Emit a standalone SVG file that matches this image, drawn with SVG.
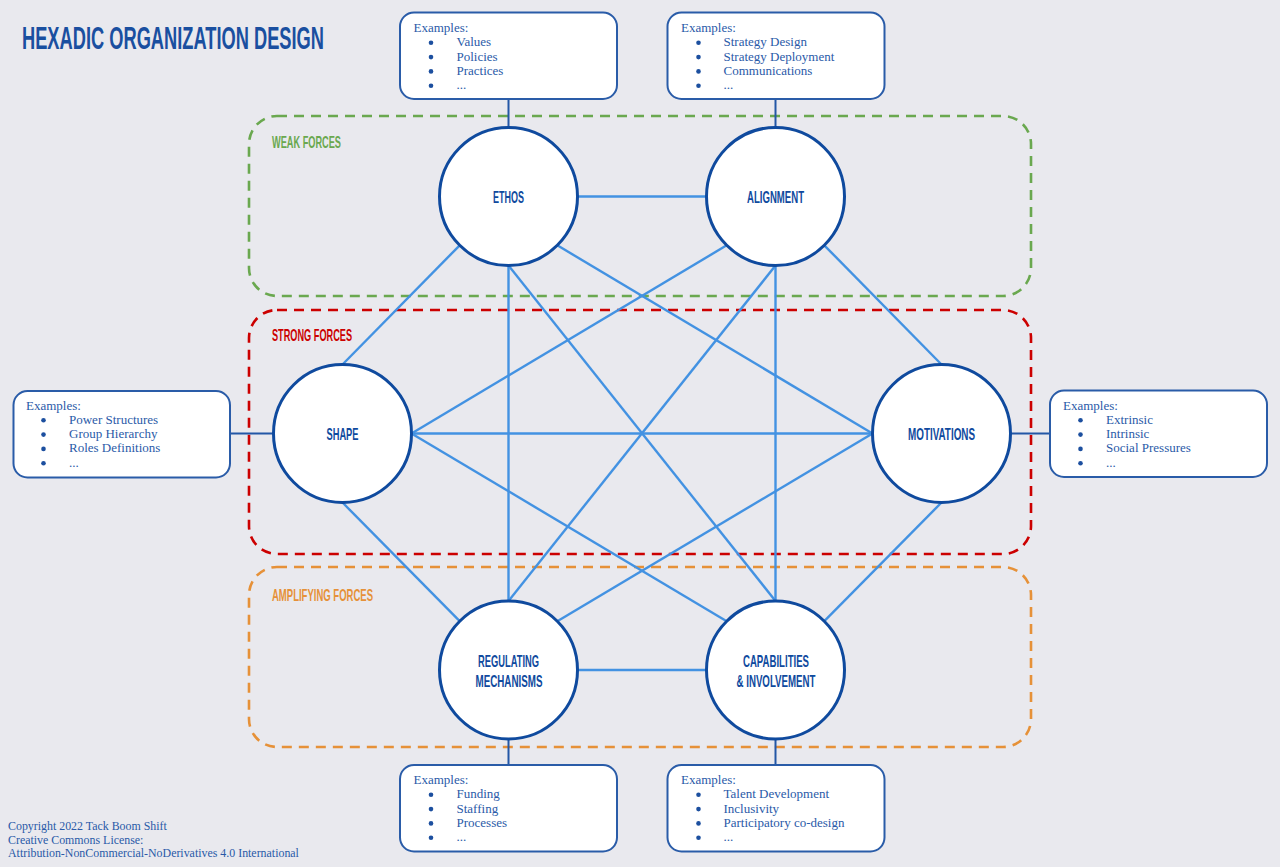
<svg xmlns="http://www.w3.org/2000/svg" width="1280" height="867" viewBox="0 0 1280 867">
<style>
.bg{fill:#e9e9ee}
.grp{fill:none;stroke-width:2.6;stroke-dasharray:10 7}
.gl{font-family:"Liberation Sans Narrow","Liberation Sans",Arial,sans-serif;font-weight:bold;font-size:16.5px}
.edge{stroke:#4392e2;stroke-width:2.4;fill:none}
.link{stroke:#2357a6;stroke-width:2;fill:none}
.node{fill:#ffffff;stroke:#0f4a9e;stroke-width:3}
.nl{font-family:"Liberation Sans Narrow","Liberation Sans",Arial,sans-serif;font-weight:bold;font-size:16.5px;fill:#0f4a9e;text-anchor:middle}
.box{fill:#ffffff;stroke:#2a5ca8;stroke-width:2}
.bt{font-family:"Liberation Serif","DejaVu Serif",serif;font-size:13px;fill:#2a5aa8}
.dot{fill:#1c4f9f}
.cp{font-family:"Liberation Serif","DejaVu Serif",serif;font-size:11.9px;fill:#2a5aa8}
</style>
<rect class="bg" x="0" y="0" width="1280" height="867"/>
<text x="22" y="48.5" font-family="'Liberation Sans Narrow','Liberation Sans',Arial,sans-serif" font-weight="bold" font-size="31" fill="#1a4fa0" textLength="302" lengthAdjust="spacingAndGlyphs">HEXADIC ORGANIZATION DESIGN</text>

<g id="groups">
<rect class="grp" x="249" y="116" width="782" height="180" rx="28" stroke="#6aa84f"/>
<rect class="grp" x="249" y="310" width="782" height="244" rx="28" stroke="#cc0000"/>
<rect class="grp" x="249" y="567" width="782" height="180" rx="28" stroke="#e69138"/>
<text class="gl" x="272" y="148" fill="#6aa84f" textLength="69" lengthAdjust="spacingAndGlyphs">WEAK FORCES</text>
<text class="gl" x="272" y="341" fill="#cc0000" textLength="80" lengthAdjust="spacingAndGlyphs">STRONG FORCES</text>
<text class="gl" x="272" y="601" fill="#e69138" textLength="101" lengthAdjust="spacingAndGlyphs">AMPLIFYING FORCES</text>
</g>

<g id="connectors">
<line class="edge" x1="577.5" y1="196.5" x2="706.5" y2="196.5"/>
<line class="edge" x1="459.7" y1="245.3" x2="342.5" y2="364.5"/>
<line class="edge" x1="508.5" y1="265.5" x2="508.5" y2="601"/>
<line class="edge" x1="508.5" y1="265.5" x2="775.5" y2="601"/>
<line class="edge" x1="557.3" y1="245.3" x2="872.5" y2="433.5"/>
<line class="edge" x1="726.7" y1="245.3" x2="411.5" y2="433.5"/>
<line class="edge" x1="775.5" y1="265.5" x2="508.5" y2="601"/>
<line class="edge" x1="775.5" y1="265.5" x2="775.5" y2="601"/>
<line class="edge" x1="824.3" y1="245.3" x2="941.5" y2="364.5"/>
<line class="edge" x1="411.5" y1="433.5" x2="872.5" y2="433.5"/>
<line class="edge" x1="411.5" y1="433.5" x2="726.7" y2="621.2"/>
<line class="edge" x1="872.5" y1="433.5" x2="557.3" y2="621.2"/>
<line class="edge" x1="342.5" y1="502.5" x2="459.7" y2="621.2"/>
<line class="edge" x1="941.5" y1="502.5" x2="824.3" y2="621.2"/>
<line class="edge" x1="577.5" y1="670" x2="706.5" y2="670"/>
<line class="link" x1="508.5" y1="99" x2="508.5" y2="127.5"/>
<line class="link" x1="775.5" y1="99" x2="775.5" y2="127.5"/>
<line class="link" x1="230" y1="433.5" x2="273.5" y2="433.5"/>
<line class="link" x1="1010.5" y1="433.5" x2="1050" y2="433.5"/>
<line class="link" x1="508.5" y1="739" x2="508.5" y2="765"/>
<line class="link" x1="775.5" y1="739" x2="775.5" y2="765"/>
</g>

<g id="ethos">
<circle class="node" cx="508.5" cy="196.5" r="69"/>
<text class="nl" x="508.5" y="203" textLength="31" lengthAdjust="spacingAndGlyphs">ETHOS</text>
</g>
<g id="alignment">
<circle class="node" cx="775.5" cy="196.5" r="69"/>
<text class="nl" x="775.5" y="203" textLength="57" lengthAdjust="spacingAndGlyphs">ALIGNMENT</text>
</g>
<g id="shape">
<circle class="node" cx="342.5" cy="433.5" r="69"/>
<text class="nl" x="342.5" y="440" textLength="32" lengthAdjust="spacingAndGlyphs">SHAPE</text>
</g>
<g id="motivations">
<circle class="node" cx="941.5" cy="433.5" r="69"/>
<text class="nl" x="941.5" y="440" textLength="67" lengthAdjust="spacingAndGlyphs">MOTIVATIONS</text>
</g>
<g id="regulating">
<circle class="node" cx="508.5" cy="670" r="69"/>
<text class="nl" x="508.5" y="667" textLength="61" lengthAdjust="spacingAndGlyphs">REGULATING</text>
<text class="nl" x="509" y="687" textLength="67" lengthAdjust="spacingAndGlyphs">MECHANISMS</text>
</g>
<g id="capabilities">
<circle class="node" cx="775.5" cy="670" r="69"/>
<text class="nl" x="776" y="667" textLength="66" lengthAdjust="spacingAndGlyphs">CAPABILITIES</text>
<text class="nl" x="776" y="687" textLength="79" lengthAdjust="spacingAndGlyphs">&amp; INVOLVEMENT</text>
</g>

<g id="ex-ethos">
<rect class="box" x="400" y="12.5" width="217" height="86.5" rx="14"/>
<text class="bt" x="413.5" y="32">Examples:</text>
<circle class="dot" cx="431" cy="42.8" r="2.3"/><text class="bt" x="456.5" y="46.3">Values</text>
<circle class="dot" cx="431" cy="57.1" r="2.3"/><text class="bt" x="456.5" y="60.6">Policies</text>
<circle class="dot" cx="431" cy="71.4" r="2.3"/><text class="bt" x="456.5" y="74.9">Practices</text>
<circle class="dot" cx="431" cy="85.7" r="2.3"/><text class="bt" x="456.5" y="89.2">...</text>
</g>
<g id="ex-alignment">
<rect class="box" x="667.5" y="12.5" width="217" height="86.5" rx="14"/>
<text class="bt" x="681" y="32">Examples:</text>
<circle class="dot" cx="698.5" cy="42.8" r="2.3"/><text class="bt" x="723.5" y="46.3">Strategy Design</text>
<circle class="dot" cx="698.5" cy="57.1" r="2.3"/><text class="bt" x="723.5" y="60.6">Strategy Deployment</text>
<circle class="dot" cx="698.5" cy="71.4" r="2.3"/><text class="bt" x="723.5" y="74.9">Communications</text>
<circle class="dot" cx="698.5" cy="85.7" r="2.3"/><text class="bt" x="723.5" y="89.2">...</text>
</g>
<g id="ex-shape">
<rect class="box" x="13.5" y="391" width="216.5" height="86.5" rx="14"/>
<text class="bt" x="26" y="409.5">Examples:</text>
<circle class="dot" cx="43.5" cy="420.3" r="2.3"/><text class="bt" x="69" y="423.8">Power Structures</text>
<circle class="dot" cx="43.5" cy="434.6" r="2.3"/><text class="bt" x="69" y="438.1">Group Hierarchy</text>
<circle class="dot" cx="43.5" cy="448.9" r="2.3"/><text class="bt" x="69" y="452.4">Roles Definitions</text>
<circle class="dot" cx="43.5" cy="463.2" r="2.3"/><text class="bt" x="69" y="466.7">...</text>
</g>
<g id="ex-motivations">
<rect class="box" x="1050" y="390.5" width="217" height="86.5" rx="14"/>
<text class="bt" x="1063" y="409.5">Examples:</text>
<circle class="dot" cx="1080.5" cy="420.3" r="2.3"/><text class="bt" x="1106" y="423.8">Extrinsic</text>
<circle class="dot" cx="1080.5" cy="434.6" r="2.3"/><text class="bt" x="1106" y="438.1">Intrinsic</text>
<circle class="dot" cx="1080.5" cy="448.9" r="2.3"/><text class="bt" x="1106" y="452.4">Social Pressures</text>
<circle class="dot" cx="1080.5" cy="463.2" r="2.3"/><text class="bt" x="1106" y="466.7">...</text>
</g>
<g id="ex-regulating">
<rect class="box" x="400" y="765" width="217" height="86.5" rx="14"/>
<text class="bt" x="413.5" y="784">Examples:</text>
<circle class="dot" cx="431" cy="794.8" r="2.3"/><text class="bt" x="456.5" y="798.3">Funding</text>
<circle class="dot" cx="431" cy="809.1" r="2.3"/><text class="bt" x="456.5" y="812.6">Staffing</text>
<circle class="dot" cx="431" cy="823.4" r="2.3"/><text class="bt" x="456.5" y="826.9">Processes</text>
<circle class="dot" cx="431" cy="837.7" r="2.3"/><text class="bt" x="456.5" y="841.2">...</text>
</g>
<g id="ex-capabilities">
<rect class="box" x="667.5" y="765" width="217" height="86.5" rx="14"/>
<text class="bt" x="681" y="784">Examples:</text>
<circle class="dot" cx="698.5" cy="794.8" r="2.3"/><text class="bt" x="723.5" y="798.3">Talent Development</text>
<circle class="dot" cx="698.5" cy="809.1" r="2.3"/><text class="bt" x="723.5" y="812.6">Inclusivity</text>
<circle class="dot" cx="698.5" cy="823.4" r="2.3"/><text class="bt" x="723.5" y="826.9">Participatory co-design</text>
<circle class="dot" cx="698.5" cy="837.7" r="2.3"/><text class="bt" x="723.5" y="841.2">...</text>
</g>

<g id="copyright">
<text class="cp" x="8" y="829.5">Copyright 2022 Tack Boom Shift</text>
<text class="cp" x="8" y="843.5">Creative Commons License:</text>
<text class="cp" x="8" y="857">Attribution-NonCommercial-NoDerivatives 4.0 International</text>
</g>
</svg>
